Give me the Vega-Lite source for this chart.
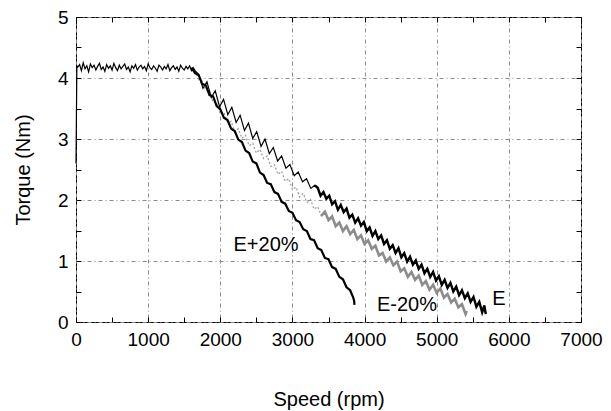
{
  "$schema": "https://vega.github.io/schema/vega-lite/v6.json",
  "width": 505,
  "height": 305,
  "autosize": "none",
  "padding": {"left": 76, "top": 17, "right": 30, "bottom": 89},
  "background": "white",
  "config": {
    "view": {"stroke": "black", "strokeWidth": 1},
    "font": "Liberation Sans"
  },
  "datasets": {
    "E": [
      {"speed":0,"torque":2.6},{"speed":12,"torque":4.2},
      {"speed":25,"torque":4.18},{"speed":50,"torque":4.22},{"speed":75,"torque":4.12},{"speed":100,"torque":4.25},{"speed":125,"torque":4.15},{"speed":150,"torque":4.20},{"speed":175,"torque":4.10},{"speed":200,"torque":4.23},{"speed":225,"torque":4.17},{"speed":250,"torque":4.21},{"speed":275,"torque":4.13},{"speed":300,"torque":4.19},{"speed":325,"torque":4.24},{"speed":350,"torque":4.14},{"speed":375,"torque":4.18},{"speed":400,"torque":4.11},{"speed":425,"torque":4.22},{"speed":450,"torque":4.16},{"speed":475,"torque":4.20},{"speed":500,"torque":4.13},{"speed":525,"torque":4.24},{"speed":550,"torque":4.17},{"speed":575,"torque":4.12},{"speed":600,"torque":4.21},{"speed":625,"torque":4.15},{"speed":650,"torque":4.19},{"speed":675,"torque":4.23},{"speed":700,"torque":4.14},{"speed":725,"torque":4.18},{"speed":750,"torque":4.10},{"speed":775,"torque":4.20},{"speed":800,"torque":4.16},{"speed":825,"torque":4.22},{"speed":850,"torque":4.13},{"speed":875,"torque":4.18},{"speed":900,"torque":4.21},{"speed":925,"torque":4.15},{"speed":950,"torque":4.19},{"speed":975,"torque":4.12},{"speed":1000,"torque":4.23},{"speed":1025,"torque":4.17},{"speed":1050,"torque":4.14},{"speed":1075,"torque":4.20},{"speed":1100,"torque":4.16},{"speed":1125,"torque":4.11},{"speed":1150,"torque":4.21},{"speed":1175,"torque":4.18},{"speed":1200,"torque":4.13},{"speed":1225,"torque":4.19},{"speed":1250,"torque":4.15},{"speed":1275,"torque":4.22},{"speed":1300,"torque":4.12},{"speed":1325,"torque":4.17},{"speed":1350,"torque":4.20},{"speed":1375,"torque":4.14},{"speed":1400,"torque":4.18},{"speed":1425,"torque":4.11},{"speed":1450,"torque":4.21},{"speed":1475,"torque":4.16},{"speed":1500,"torque":4.13},{"speed":1525,"torque":4.19},{"speed":1550,"torque":4.15},{"speed":1575,"torque":4.20},{"speed":1600,"torque":4.12},{"speed":1625,"torque":4.17},
      {"speed":1650,"torque":4.12},{"speed":1700,"torque":4.06},{"speed":1760,"torque":3.83},{"speed":1815,"torque":3.94},{"speed":1875,"torque":3.68},{"speed":1930,"torque":3.79},{"speed":1990,"torque":3.53},{"speed":2045,"torque":3.65},{"speed":2105,"torque":3.40},{"speed":2160,"torque":3.52},{"speed":2220,"torque":3.27},{"speed":2275,"torque":3.39},{"speed":2335,"torque":3.14},{"speed":2390,"torque":3.26},{"speed":2450,"torque":3.01},{"speed":2505,"torque":3.12},{"speed":2565,"torque":2.88},{"speed":2620,"torque":3.00},{"speed":2680,"torque":2.76},{"speed":2735,"torque":2.86},{"speed":2795,"torque":2.64},{"speed":2850,"torque":2.72},{"speed":2910,"torque":2.52},{"speed":2965,"torque":2.58},{"speed":3025,"torque":2.40},{"speed":3080,"torque":2.46},{"speed":3140,"torque":2.30},{"speed":3195,"torque":2.35},{"speed":3255,"torque":2.19},{"speed":3310,"torque":2.24},
      {"speed":3350,"torque":2.20},{"speed":3390,"torque":2.07},{"speed":3430,"torque":2.13},{"speed":3470,"torque":2.02},{"speed":3510,"torque":2.07},{"speed":3550,"torque":1.93},{"speed":3590,"torque":1.98},{"speed":3630,"torque":1.84},{"speed":3670,"torque":1.92},{"speed":3710,"torque":1.80},{"speed":3750,"torque":1.86},{"speed":3790,"torque":1.71},{"speed":3830,"torque":1.76},{"speed":3870,"torque":1.63},{"speed":3910,"torque":1.70},{"speed":3950,"torque":1.58},{"speed":3990,"torque":1.64},{"speed":4030,"torque":1.49},{"speed":4070,"torque":1.55},{"speed":4110,"torque":1.41},{"speed":4150,"torque":1.49},{"speed":4190,"torque":1.36},{"speed":4230,"torque":1.42},{"speed":4270,"torque":1.28},{"speed":4310,"torque":1.34},{"speed":4350,"torque":1.20},{"speed":4390,"torque":1.26},{"speed":4430,"torque":1.13},{"speed":4470,"torque":1.21},{"speed":4510,"torque":1.06},{"speed":4550,"torque":1.13},{"speed":4590,"torque":0.99},{"speed":4630,"torque":1.07},{"speed":4670,"torque":0.94},{"speed":4710,"torque":1.01},{"speed":4750,"torque":0.87},{"speed":4790,"torque":0.94},{"speed":4830,"torque":0.80},{"speed":4870,"torque":0.87},{"speed":4910,"torque":0.74},{"speed":4950,"torque":0.82},{"speed":4990,"torque":0.68},{"speed":5030,"torque":0.75},{"speed":5070,"torque":0.61},{"speed":5110,"torque":0.69},{"speed":5150,"torque":0.56},{"speed":5190,"torque":0.64},{"speed":5230,"torque":0.50},{"speed":5270,"torque":0.58},{"speed":5310,"torque":0.44},{"speed":5350,"torque":0.52},{"speed":5390,"torque":0.39},{"speed":5430,"torque":0.47},{"speed":5470,"torque":0.33},{"speed":5510,"torque":0.41},{"speed":5550,"torque":0.25},{"speed":5590,"torque":0.33},{"speed":5630,"torque":0.16},{"speed":5660,"torque":0.27},{"speed":5680,"torque":0.13}
    ],
    "Eplus": [
      {"speed":1600,"torque":4.17},{"speed":1650,"torque":4.08},{"speed":1700,"torque":4.05},{"speed":1750,"torque":3.90},{"speed":1800,"torque":3.88},{"speed":1850,"torque":3.72},{"speed":1900,"torque":3.70},{"speed":1950,"torque":3.54},{"speed":2000,"torque":3.49},{"speed":2050,"torque":3.35},{"speed":2100,"torque":3.31},{"speed":2150,"torque":3.17},{"speed":2200,"torque":3.13},{"speed":2250,"torque":2.99},{"speed":2300,"torque":2.95},{"speed":2350,"torque":2.81},{"speed":2400,"torque":2.77},{"speed":2450,"torque":2.63},{"speed":2500,"torque":2.60},{"speed":2550,"torque":2.45},{"speed":2600,"torque":2.41},{"speed":2650,"torque":2.28},{"speed":2700,"torque":2.26},{"speed":2750,"torque":2.13},{"speed":2800,"torque":2.10},{"speed":2850,"torque":1.97},{"speed":2900,"torque":1.94},{"speed":2950,"torque":1.82},{"speed":3000,"torque":1.79},{"speed":3050,"torque":1.67},{"speed":3100,"torque":1.64},{"speed":3150,"torque":1.52},{"speed":3200,"torque":1.49},{"speed":3250,"torque":1.36},{"speed":3300,"torque":1.34},{"speed":3350,"torque":1.21},{"speed":3400,"torque":1.18},{"speed":3450,"torque":1.05},{"speed":3500,"torque":1.03},{"speed":3550,"torque":0.90},{"speed":3600,"torque":0.87},{"speed":3650,"torque":0.74},{"speed":3700,"torque":0.70},{"speed":3750,"torque":0.57},{"speed":3800,"torque":0.52},{"speed":3843,"torque":0.40},{"speed":3855,"torque":0.35},{"speed":3860,"torque":0.28}
    ],
    "Eminus": [
      {"speed":1650,"torque":4.12},{"speed":1700,"torque":3.97},{"speed":1750,"torque":3.95},{"speed":1800,"torque":3.80},{"speed":1850,"torque":3.79},{"speed":1900,"torque":3.60},{"speed":1950,"torque":3.60},{"speed":2000,"torque":3.41},{"speed":2050,"torque":3.44},{"speed":2100,"torque":3.27},{"speed":2150,"torque":3.29},{"speed":2200,"torque":3.12},{"speed":2250,"torque":3.17},{"speed":2300,"torque":3.01},{"speed":2350,"torque":3.06},{"speed":2400,"torque":2.89},{"speed":2450,"torque":2.93},{"speed":2500,"torque":2.77},{"speed":2550,"torque":2.83},{"speed":2600,"torque":2.68},{"speed":2650,"torque":2.72},{"speed":2700,"torque":2.55},{"speed":2750,"torque":2.58},{"speed":2800,"torque":2.42},{"speed":2850,"torque":2.47},{"speed":2900,"torque":2.31},{"speed":2950,"torque":2.35},{"speed":3000,"torque":2.17},{"speed":3050,"torque":2.21},{"speed":3100,"torque":2.05},{"speed":3150,"torque":2.11},{"speed":3200,"torque":1.96},{"speed":3250,"torque":2.01},{"speed":3300,"torque":1.85},{"speed":3350,"torque":1.89},{"speed":3400,"torque":1.74},{"speed":3450,"torque":1.81},{"speed":3500,"torque":1.67},{"speed":3550,"torque":1.73},{"speed":3600,"torque":1.57},{"speed":3650,"torque":1.63},{"speed":3700,"torque":1.49},{"speed":3750,"torque":1.57},{"speed":3800,"torque":1.44},{"speed":3850,"torque":1.51},{"speed":3900,"torque":1.36},{"speed":3950,"torque":1.42},{"speed":4000,"torque":1.28},{"speed":4050,"torque":1.34},{"speed":4100,"torque":1.20},{"speed":4150,"torque":1.25},{"speed":4200,"torque":1.09},{"speed":4250,"torque":1.13},{"speed":4300,"torque":0.99},{"speed":4350,"torque":1.06},{"speed":4400,"torque":0.93},{"speed":4450,"torque":0.99},{"speed":4500,"torque":0.83},{"speed":4550,"torque":0.88},{"speed":4600,"torque":0.74},{"speed":4650,"torque":0.82},{"speed":4700,"torque":0.69},{"speed":4750,"torque":0.76},{"speed":4800,"torque":0.61},{"speed":4850,"torque":0.67},{"speed":4900,"torque":0.53},{"speed":4950,"torque":0.61},{"speed":5000,"torque":0.48},{"speed":5050,"torque":0.55},{"speed":5100,"torque":0.40},{"speed":5150,"torque":0.46},{"speed":5200,"torque":0.32},{"speed":5250,"torque":0.38},{"speed":5300,"torque":0.24},{"speed":5350,"torque":0.29},{"speed":5400,"torque":0.13},{"speed":5416,"torque":0.18}
    ],
    "labels": [
      {"label":"E+20%","speed":2634,"torque":1.26},
      {"label":"E-20%","speed":4588,"torque":0.28},
      {"label":"E","speed":5864,"torque":0.38}
    ]
  },
  "resolve": {"axis": {"x": "independent", "y": "independent"}},
  "layer": [
    {
      "data": {"name": "Eminus"},
      "transform": [{"filter": "datum.speed <= 3450"}],
      "mark": {"type": "line", "color": "#a0a0a0", "strokeWidth": 1.3, "strokeDash": [2, 2]},
      "encoding": {
        "x": {"field": "speed", "type": "quantitative", "scale": {"domain": [0, 7000], "nice": false},
          "axis": {"orient": "bottom", "values": [0,500,1000,1500,2000,2500,3000,3500,4000,4500,5000,5500,6000,6500,7000],
            "format": "d", "labelExpr": "datum.value % 1000 === 0 ? datum.label : ''",
            "labelOverlap": false, "labelFlush": false, "tickSize": -5, "tickColor": "black", "tickWidth": 1,
            "labelPadding": 13, "labelFontSize": 19, "labelColor": "black", "labelFont": "Liberation Sans",
            "domain": false, "grid": true, "gridColor": "#8a8a8a", "gridDash": [4, 3, 1, 3], "gridWidth": 1,
            "gridOpacity": {"condition": {"test": "datum.value % 1000 === 0", "value": 1}, "value": 0},
            "title": "Speed (rpm)", "titleFontSize": 20, "titleFontWeight": "normal", "titleColor": "black",
            "titleFont": "Liberation Sans", "titlePadding": 40}},
        "y": {"field": "torque", "type": "quantitative", "scale": {"domain": [0, 5], "nice": false},
          "axis": {"orient": "left", "values": [0,0.5,1,1.5,2,2.5,3,3.5,4,4.5,5],
            "format": ".1~f", "labelExpr": "datum.value % 1 === 0 ? datum.label : ''",
            "labelOverlap": false, "tickSize": -5, "tickColor": "black", "tickWidth": 1,
            "labelPadding": 13, "labelFontSize": 19, "labelColor": "black", "labelFont": "Liberation Sans",
            "domain": false, "grid": true, "gridColor": "#8a8a8a", "gridDash": [4, 3, 1, 3], "gridWidth": 1,
            "gridOpacity": {"condition": {"test": "datum.value % 1 === 0", "value": 1}, "value": 0},
            "title": "Torque (Nm)", "titleFontSize": 20, "titleFontWeight": "normal", "titleColor": "black",
            "titleFont": "Liberation Sans", "titlePadding": 24}}
      }
    },
    {
      "data": {"name": "Eminus"},
      "transform": [{"filter": "datum.speed >= 3400"}],
      "mark": {"type": "line", "color": "#8c8c8c", "strokeWidth": 2.6},
      "encoding": {
        "x": {"field": "speed", "type": "quantitative", "axis": null},
        "y": {"field": "torque", "type": "quantitative", "axis": null}
      }
    },
    {
      "data": {"name": "Eplus"},
      "mark": {"type": "line", "color": "black", "strokeWidth": 2.2},
      "encoding": {
        "x": {"field": "speed", "type": "quantitative", "axis": null},
        "y": {"field": "torque", "type": "quantitative", "axis": null}
      }
    },
    {
      "data": {"name": "E"},
      "mark": {"type": "line", "color": "black", "strokeWidth": 1.2},
      "encoding": {
        "x": {"field": "speed", "type": "quantitative", "axis": null},
        "y": {"field": "torque", "type": "quantitative", "axis": null}
      }
    },
    {
      "data": {"name": "E"},
      "transform": [{"filter": "datum.speed >= 3310"}],
      "mark": {"type": "line", "color": "black", "strokeWidth": 2.4},
      "encoding": {
        "x": {"field": "speed", "type": "quantitative", "axis": null},
        "y": {"field": "torque", "type": "quantitative", "axis": null}
      }
    },
    {
      "data": {"name": "labels"},
      "mark": {"type": "text", "font": "Liberation Sans", "fontSize": 20, "color": "black", "align": "center", "baseline": "middle"},
      "encoding": {
        "x": {"field": "speed", "type": "quantitative",
          "axis": {"orient": "top", "values": [0,500,1000,1500,2000,2500,3000,3500,4000,4500,5000,5500,6000,6500,7000],
            "labels": false, "tickSize": -5, "tickColor": "black", "domain": false, "grid": false, "title": null}},
        "y": {"field": "torque", "type": "quantitative",
          "axis": {"orient": "right", "values": [0,0.5,1,1.5,2,2.5,3,3.5,4,4.5,5],
            "labels": false, "tickSize": -5, "tickColor": "black", "domain": false, "grid": false, "title": null}},
        "text": {"field": "label"}
      }
    }
  ]
}
